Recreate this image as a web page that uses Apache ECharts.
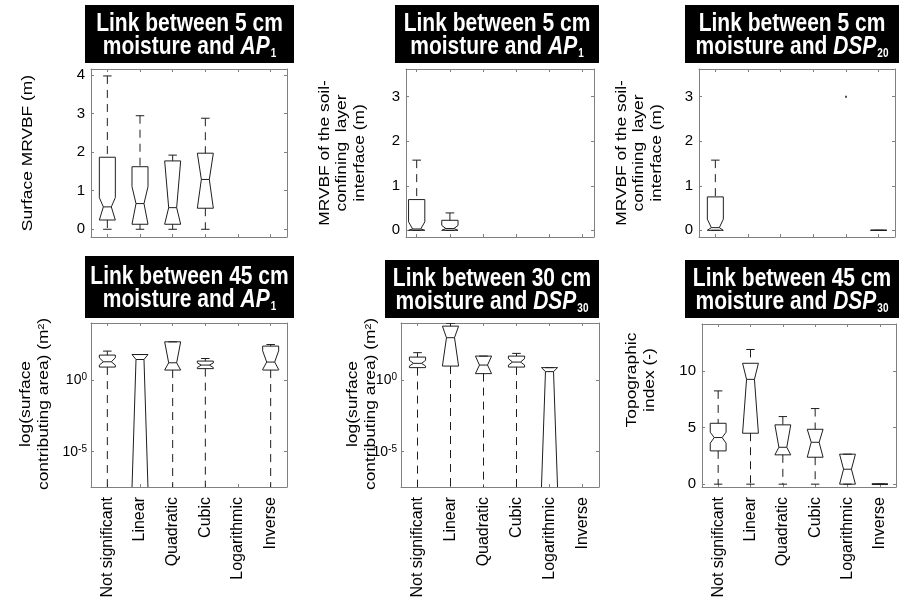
<!DOCTYPE html>
<html><head><meta charset="utf-8">
<script src="https://cdn.jsdelivr.net/npm/echarts@6/dist/echarts.min.js"></script>
<style>html,body{margin:0;padding:0;background:#fff}#c{width:899px;height:609px}</style>
</head><body><div id="c"></div>
<script>
// ---------- data ----------
const categories = ['Not significant', 'Linear', 'Quadratic', 'Cubic', 'Logarithmic', 'Inverse'];
// each box: [min, q1, notchLow, median, notchHigh, q3, max]; null = no box
const p1Boxes = [
  [0, 0.24, 0.24, 0.58, 0.82, 1.865, 3.97],
  [0, 0.13, 0.13, 0.665, 1.105, 1.62, 2.94],
  [0, 0.13, 0.13, 0.56, 1.77, 1.77, 1.92],
  [0, 0.545, 0.545, 1.29, 1.97, 1.97, 2.875],
  null, null
];
const p2Boxes = [
  [0, 0, 0, 0.03, 0.19, 0.69, 1.575],
  [0, 0, 0, 0.04, 0.11, 0.225, 0.39],
  null, null, null, null
];
const p3Boxes = [
  [0, 0, 0, 0.06, 0.25, 0.75, 1.575],
  null, null, null, null,
  [0, 0, 0, 0, 0, 0, 0]
];
const p3Points = [[5, 3]];
// panels 4 and 5: values are log10 of surface contributing area
const p4Boxes = [
  [-10, 0.91, 1.05, 1.28, 1.56, 1.75, 2.03],
  [-10, -8, -7.6, 1.44, 1.79, 1.79, 1.79],
  [-10, 0.70, 0.70, 1.21, 2.68, 2.68, 2.68],
  [-10, 0.80, 0.88, 1.05, 1.20, 1.33, 1.51],
  null,
  [-10, 0.70, 0.74, 1.26, 2.05, 2.38, 2.49]
];
const p5Boxes = [
  [-10, 0.87, 0.98, 1.17, 1.38, 1.61, 1.92],
  [-10, 0.98, 0.98, 2.97, 3.78, 3.78, 3.98],
  [-10, 0.45, 0.45, 1.05, 1.68, 1.68, 1.68],
  [-10, 0.91, 1.05, 1.26, 1.50, 1.68, 1.87],
  [-10, -8, -7.6, 0.59, 0.87, 0.87, 0.87],
  null
];
const p6Boxes = [
  [0, 2.94, 3.62, 4.12, 4.59, 5.38, 8.24],
  [0, 4.5, 4.5, 9.26, 10.68, 10.68, 11.9],
  [0, 2.59, 2.59, 3.26, 5.24, 5.24, 5.97],
  [0, 2.38, 2.38, 3.7, 4.85, 4.85, 6.68],
  [0, 0, 0, 1.32, 2.65, 2.65, 2.65],
  [0, 0, 0, 0, 0, 0, 0]
];
const p1Ticks = [0, 1, 2, 3, 4];
const p23Ticks = [0, 1, 2, 3];
const logTicks = [-5, 0];
const p6Ticks = [0, 5, 10];
const titles = [
  ['Link between 5 cm', 'AP', '1'],
  ['Link between 5 cm', 'AP', '1'],
  ['Link between 5 cm', 'DSP', '20'],
  ['Link between 45 cm', 'AP', '1'],
  ['Link between 30 cm', 'DSP', '30'],
  ['Link between 45 cm', 'DSP', '30']
];
const yNames = [
  'Surface MRVBF (m)',
  'MRVBF of the soil-\nconfining  layer\ninterface (m)',
  'MRVBF of the soil-\nconfining  layer\ninterface (m)',
  'log(surface\ncontributing area) (m\u00B2)',
  'log(surface\ncontributing area) (m\u00B2)',
  'Topographic\nindex (-)'
];

// ---------- layout ----------
const FONT = 'Liberation Sans, Arial, Helvetica, sans-serif';
const AX = '#808080';
const INK = '#1e1e1e';
const panels = [
  {boxes: p1Boxes, ticks: p1Ticks, ymin: -0.2, ymax: 4.15, log: false, xl: false,
   grid: {left: 91, top: 69, width: 196, height: 168}, xmin: 0.5, xmax: 6.5,
   title: {x: 85, y: 5, w: 209, h: 58}, yname: {x: 28, y: 153}},
  {boxes: p2Boxes, ticks: p23Ticks, ymin: -0.15, ymax: 3.62, log: false, xl: false,
   grid: {left: 406, top: 69, width: 188, height: 168}, xmin: 0.678, xmax: 6.34,
   title: {x: 395, y: 5, w: 204, h: 58}, yname: {x: 342, y: 153}},
  {boxes: p3Boxes, ticks: p23Ticks, ymin: -0.15, ymax: 3.62, log: false, xl: false,
   grid: {left: 699, top: 69, width: 196, height: 168}, xmin: 0.5, xmax: 6.5,
   title: {x: 685, y: 5, w: 214, h: 58}, yname: {x: 639, y: 153}},
  {boxes: p4Boxes, ticks: logTicks, ymin: -7.5, ymax: 4.0, log: true, xl: true,
   grid: {left: 91, top: 323, width: 196, height: 164}, xmin: 0.5, xmax: 6.5,
   title: {x: 85, y: 256, w: 209, h: 62}, yname: {x: 35, y: 404}},
  {boxes: p5Boxes, ticks: logTicks, ymin: -7.5, ymax: 4.0, log: true, xl: true,
   grid: {left: 401, top: 323, width: 198, height: 164}, xmin: 0.5, xmax: 6.5,
   title: {x: 385, y: 260, w: 214, h: 58}, yname: {x: 362, y: 404}},
  {boxes: p6Boxes, ticks: p6Ticks, ymin: -0.25, ymax: 14.15, log: false, xl: true,
   grid: {left: 702, top: 324, width: 194, height: 163}, xmin: 0.5, xmax: 6.5,
   title: {x: 685, y: 260, w: 214, h: 58}, yname: {x: 641, y: 380}}
];
const xTickVals = categories.map((c, i) => i + 1);

function renderBox(params, api) {
  const x = api.value(0);
  const mn = api.value(1), q1 = api.value(2), nl = api.value(3), md = api.value(4),
        nh = api.value(5), q3 = api.value(6), mx = api.value(7);
  const hw = 0.245, iw = 0.122, cw = 0.13;
  const P = (dx, y) => api.coord([x + dx, y]);
  const solid = {stroke: INK, lineWidth: 1, fill: null};
  const dash = {stroke: INK, lineWidth: 1, lineDash: [8, 6], fill: null};
  const pts = [P(-hw, q3), P(-hw, nh), P(-iw, md), P(-hw, nl), P(-hw, q1),
               P(hw, q1), P(hw, nl), P(iw, md), P(hw, nh), P(hw, q3)];
  const line = (a, b, st) => ({type: 'line', shape: {x1: a[0], y1: a[1], x2: b[0], y2: b[1]}, style: st});
  const ch = [];
  if (mx > q3) ch.push(line(P(0, mx), P(0, q3), dash));
  if (mn < q1) ch.push(line(P(0, q1), P(0, mn), dash));
  ch.push(line(P(-cw, mx), P(cw, mx), solid));
  ch.push(line(P(-cw, mn), P(cw, mn), solid));
  ch.push({type: 'polygon', shape: {points: pts}, style: solid});
  ch.push(line(P(-iw, md), P(iw, md), solid));
  return {type: 'group', children: ch};
}

const grid = [], xAxis = [], yAxis = [], series = [], graphic = [];
panels.forEach((p, i) => {
  grid.push(Object.assign({containLabel: false}, p.grid));
  const xBase = {gridIndex: i, type: 'value', min: p.xmin, max: p.xmax,
    axisLine: {show: true, onZero: false, lineStyle: {color: AX, width: 1}},
    axisTick: {show: true, inside: true, length: 3, customValues: xTickVals, lineStyle: {color: AX}},
    splitLine: {show: false}};
  xAxis.push(Object.assign({}, xBase, {position: 'bottom',
    axisLabel: {show: p.xl, customValues: xTickVals, rotate: 90, margin: 10,
      fontSize: 16, fontFamily: FONT, color: '#000',
      formatter: v => categories[Math.round(v) - 1] || ''}}));
  xAxis.push(Object.assign({}, xBase, {position: 'top', axisLabel: {show: false}}));
  const yBase = {gridIndex: i, type: 'value', min: p.ymin, max: p.ymax,
    axisLine: {show: true, onZero: false, lineStyle: {color: AX, width: 1}},
    axisTick: {show: true, inside: true, length: 3, customValues: p.ticks, lineStyle: {color: AX}},
    splitLine: {show: false}};
  yAxis.push(Object.assign({}, yBase, {position: 'left',
    axisLabel: {show: true, customValues: p.ticks, margin: p.log ? 4 : 6, fontSize: 15, fontFamily: FONT, color: '#000',
      formatter: p.log ? (v => '{b|10}{s|' + String(v) + '}') : (v => String(v)),
      rich: {b: {fontSize: 14, fontFamily: FONT, color: '#000', lineHeight: 15, verticalAlign: 'bottom'},
             s: {fontSize: 10, fontFamily: FONT, color: '#000', lineHeight: 10, padding: [0, 0, 10, 0], verticalAlign: 'top'}}}}));
  yAxis.push(Object.assign({}, yBase, {position: 'right', axisLabel: {show: false}}));
  series.push({type: 'custom', xAxisIndex: 2 * i, yAxisIndex: 2 * i, clip: true,
    renderItem: renderBox, silent: true,
    encode: {x: 0, y: [1, 2, 3, 4, 5, 6, 7]},
    data: p.boxes.map((b, k) => b ? [k + 1].concat(b) : null).filter(d => d)});
  const t = titles[i];
  graphic.push({type: 'rect', shape: {x: p.title.x, y: p.title.y, width: p.title.w, height: p.title.h},
    style: {fill: '#000'}, silent: true});
  graphic.push({type: 'text', x: p.title.x + p.title.w / 2, y: p.title.y + p.title.h / 2 + 2, scaleY: 1.2,
    style: {text: t[0] + '\n{m|moisture and }{i|' + t[1] + '}{s|' + t[2] + '}',
      fill: '#fff', fontSize: 21, fontWeight: 'bold', fontFamily: FONT, lineHeight: 20,
      align: 'center', verticalAlign: 'middle',
      rich: {m: {fill: '#fff', fontSize: 21, fontWeight: 'bold', fontFamily: FONT, lineHeight: 20, verticalAlign: 'bottom'},
             i: {fill: '#fff', fontSize: 21, fontWeight: 'bold', fontStyle: 'italic', fontFamily: FONT, lineHeight: 20, verticalAlign: 'bottom'},
             s: {fill: '#fff', fontSize: 10, fontWeight: 'bold', fontFamily: FONT, lineHeight: 8, padding: [0, 0, 0, 1], verticalAlign: 'bottom'}}},
    silent: true});
  graphic.push({type: 'text', x: p.yname.x, y: p.yname.y, rotation: Math.PI / 2, scaleX: 1.2,
    style: {text: yNames[i], fill: '#000', fontSize: 14.5, fontFamily: FONT, lineHeight: 17.5,
      align: 'center', verticalAlign: 'middle'}, silent: true});
});
series.push({type: 'scatter', xAxisIndex: 4, yAxisIndex: 4, symbol: 'rect', symbolSize: 2,
  itemStyle: {color: INK}, silent: true, data: p3Points});

const chart = echarts.init(document.getElementById('c'));
chart.setOption({animation: false, backgroundColor: '#fff', grid, xAxis, yAxis, series, graphic});
</script></body></html>
